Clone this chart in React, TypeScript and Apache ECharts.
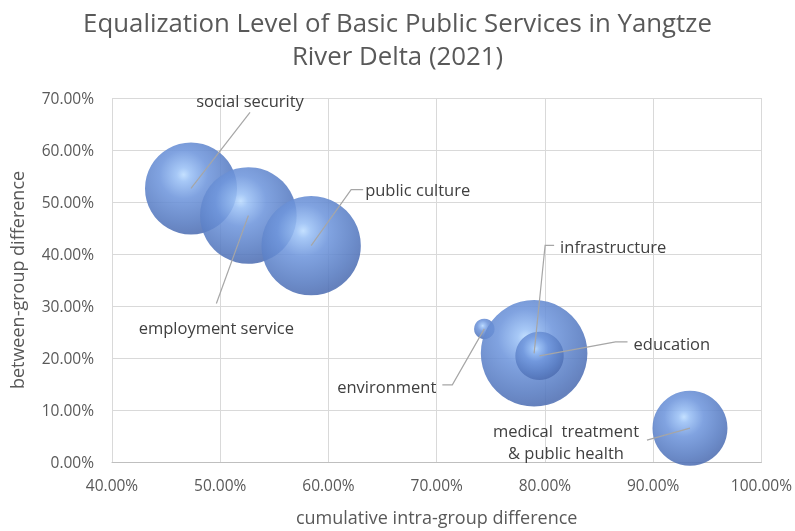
import React, { useEffect, useRef } from "react";
import * as echarts from "echarts";

const categories = [
  "social security",
  "employment service",
  "public culture",
  "environment",
  "infrastructure",
  "education",
  "medical  treatment\n& public health",
];
const xValues = [47.3, 52.6, 58.4, 74.4, 79.0, 79.5, 93.4];
const yValues = [52.6, 47.4, 41.6, 25.6, 20.9, 20.4, 6.5];
const bubbleSizes = [0.745, 0.821, 0.869, 0.037, 1.0, 0.206, 0.495];
const xTicks = [40, 50, 60, 70, 80, 90, 100];
const yTicks = [0, 10, 20, 30, 40, 50, 60, 70];

// label placement (pixel offsets from the bubble centre)
const labelLayout = [
  { tx: 59, ty: -88, align: "center", line: [[59, -76], [0, 0]] },
  { tx: -32, ty: 112, align: "center", line: [[-32, 88], [0, 0]] },
  { tx: 54, ty: -56, align: "left", line: [[52, -56], [40, -56], [0, 0]] },
  { tx: -48, ty: 58, align: "right", line: [[-42, 56], [-32, 56], [0, 0]] },
  { tx: 26, ty: -107, align: "left", line: [[20, -108], [11, -108], [0, 0]] },
  { tx: 94, ty: -12, align: "left", line: [[88, -14], [76, -14], [0, 0]] },
  { tx: -124, ty: 13, align: "center", line: [[-43, 12], [0, 0]] },
];

const FONT = "'Open Sans', 'Noto Sans', sans-serif";
const MAX_R = 53.3;

export default function App() {
  const ref = useRef<HTMLDivElement>(null);
  useEffect(() => {
    if (!ref.current) return;
    const chart = echarts.init(ref.current, undefined, { renderer: "svg" });
    const data = xValues.map((x, i) => [x, yValues[i], bubbleSizes[i], i]);
    const maxSize = Math.max(...bubbleSizes);
    const gradient = new echarts.graphic.RadialGradient(0.42, 0.35, 0.75, [
      { offset: 0, color: "#bcdcff" },
      { offset: 0.1, color: "#9ac0f5" },
      { offset: 0.35, color: "#6f96dc" },
      { offset: 0.7, color: "#587cc2" },
      { offset: 0.87, color: "#4f6fb3" },
      { offset: 1, color: "#7090cc" },
    ]);
    chart.setOption({
      animation: false,
      title: {
        text: "Equalization Level of Basic Public Services in Yangtze\nRiver Delta (2021)",
        left: "center",
        top: 0,
        textStyle: {
          fontFamily: FONT,
          fontSize: 25.8,
          fontWeight: "normal",
          color: "#595959",
          lineHeight: 33,
        },
      },
      grid: { left: 110, right: 33, top: 98, bottom: 68, containLabel: false },
      xAxis: {
        type: "value",
        min: xTicks[0],
        max: xTicks[xTicks.length - 1],
        interval: 10,
        name: "cumulative intra-group difference",
        nameLocation: "middle",
        nameGap: 46,
        nameTextStyle: { fontFamily: FONT, fontSize: 18, color: "#595959" },
        axisLine: { lineStyle: { color: "#bfbfbf" } },
        axisTick: { show: false },
        splitLine: { show: true, lineStyle: { color: "#d9d9d9" } },
        axisLabel: {
          fontFamily: FONT,
          fontSize: 15.5,
          color: "#595959",
          margin: 15,
          formatter: (v: number) => v.toFixed(2) + "%",
        },
      },
      yAxis: {
        type: "value",
        min: yTicks[0],
        max: yTicks[yTicks.length - 1],
        interval: 10,
        name: "between-group difference",
        nameLocation: "middle",
        nameGap: 86,
        nameTextStyle: { fontFamily: FONT, fontSize: 18, color: "#595959" },
        axisLine: { show: false },
        axisTick: { show: false },
        splitLine: { show: true, lineStyle: { color: "#d9d9d9" } },
        axisLabel: {
          fontFamily: FONT,
          fontSize: 15.5,
          color: "#595959",
          margin: 18,
          formatter: (v: number) => v.toFixed(2) + "%",
        },
      },
      series: [
        {
          type: "scatter",
          data,
          symbolSize: (val: number[]) => 2 * MAX_R * Math.sqrt(val[2] / maxSize),
          itemStyle: { color: gradient, opacity: 0.88 },
          emphasis: { disabled: true },
          z: 2,
        },
        {
          type: "custom",
          data,
          z: 5,
          silent: true,
          renderItem: (params: any, api: any) => {
            const idx = params.dataIndex;
            const c = api.coord([api.value(0), api.value(1)]);
            const L = labelLayout[idx];
            return {
              type: "group",
              children: [
                {
                  type: "polyline",
                  shape: { points: L.line.map((p) => [c[0] + p[0], c[1] + p[1]]) },
                  style: { stroke: "#a6a6a6", lineWidth: 1.2, fill: "none" },
                },
                {
                  type: "text",
                  x: c[0] + L.tx,
                  y: c[1] + L.ty,
                  style: {
                    text: categories[idx],
                    fontFamily: FONT,
                    fontSize: 16.5,
                    fill: "#404040",
                    align: L.align,
                    verticalAlign: "middle",
                    lineHeight: 22,
                  },
                },
              ],
            };
          },
        },
      ],
    });
    return () => chart.dispose();
  }, []);
  return (
    <div
      ref={ref}
      style={{ position: "fixed", left: 0, top: 0, width: 795, height: 531 }}
    />
  );
}
